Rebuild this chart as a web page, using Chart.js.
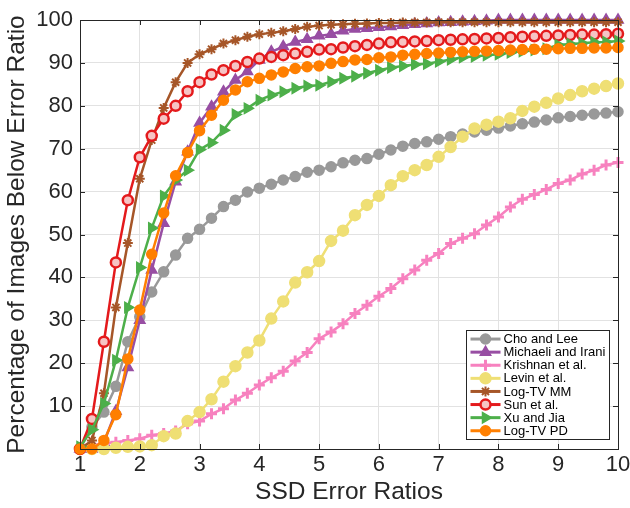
<!DOCTYPE html>
<html>
<head>
<meta charset="utf-8">
<script src="https://cdn.jsdelivr.net/npm/chart.js@4.4.1/dist/chart.umd.min.js"></script>
<style>
  html, body { margin: 0; padding: 0; background: #ffffff; }
  #wrap { width: 630px; height: 508px; position: relative; }
</style>
</head>
<body>
<div id="wrap"><canvas id="c" width="630" height="508"></canvas></div>
<script>
// SSD error ratio thresholds (x) and cumulative percentage of images (y)
const ratios = [1.0, 1.2, 1.4, 1.6, 1.8, 2.0, 2.2, 2.4, 2.6, 2.8,
                3.0, 3.2, 3.4, 3.6, 3.8, 4.0, 4.2, 4.4, 4.6, 4.8,
                5.0, 5.2, 5.4, 5.6, 5.8, 6.0, 6.2, 6.4, 6.6, 6.8,
                7.0, 7.2, 7.4, 7.6, 7.8, 8.0, 8.2, 8.4, 8.6, 8.8,
                9.0, 9.2, 9.4, 9.6, 9.8, 10.0];

const choLee = [0, 5.1, 8.6, 14.6, 25, 30.8, 36.6, 41.3, 45.2, 49.1,
                51.2, 53.8, 56.5, 58, 59.9, 60.8, 61.7, 62.7, 63.5, 64.5,
                65.0, 65.8, 66.7, 67.3, 67.7, 68.7, 69.7, 70.6, 71.2, 71.6,
                72.2, 72.8, 73.4, 73.9, 74.3, 74.8, 75.3, 75.8, 76.2, 76.7,
                77.2, 77.5, 77.8, 78.1, 78.3, 78.6];

const michaeliIrani = [0, 0, 1.5, 8.8, 19, 30, 41.7, 52.6, 62.3, 69.3,
                       76, 79.8, 83.3, 86, 88, 90.7, 92.6, 93.8, 94.9, 95.5,
                       96.3, 96.7, 97.5, 97.9, 98.1, 98.3, 98.5, 98.8, 99.0, 99.2,
                       99.4, 99.5, 99.6, 99.7, 99.8, 100, 100, 100, 100, 100,
                       100, 100, 100, 100, 100, 100];

const krishnan = [0.3, 0.9, 1.3, 1.6, 2.0, 2.4, 3.2, 3.6, 4.2, 5.9,
                  6.5, 8.2, 9.4, 11.4, 13.0, 14.9, 16.6, 18.1, 20.5, 22.5,
                  25.7, 27.3, 29.2, 31.6, 33.5, 35.6, 37.4, 39.7, 41.7, 44.0,
                  45.6, 47.9, 49.1, 50.2, 52.2, 54.1, 56.4, 58.2, 59.3, 60.5,
                  61.9, 62.7, 64.1, 65.0, 66.2, 66.8];

const levin = [0, 0, 0, 0.3, 0.5, 0.6, 0.9, 3.0, 3.6, 6.5,
               8.6, 11.6, 15.7, 19.3, 22.5, 25.3, 30.4, 34.4, 38.8, 41.2,
               43.8, 48.5, 50.9, 54.5, 56.9, 59.0, 61.5, 63.6, 65.0, 66.2,
               68.1, 70.4, 72.8, 74.7, 75.6, 76.3, 77.1, 78.8, 79.8, 80.7,
               81.7, 82.5, 83.4, 84.0, 84.6, 85.2];

const logTvMM = [0, 2, 13, 33, 48, 63, 72, 79.5, 85.5, 90,
                 92, 93.2, 94.5, 95.3, 96.1, 96.7, 97.0, 97.4, 97.9, 98.4,
                 98.7, 98.9, 99.0, 99.1, 99.2, 99.3, 99.3, 99.4, 99.4, 99.4,
                 99.5, 99.5, 99.5, 99.5, 99.5, 99.5, 99.5, 99.5, 99.5, 99.5,
                 99.5, 99.5, 99.5, 99.5, 99.5, 99.5];

const sunEtAl = [0, 7, 25, 43.5, 58, 68, 73, 77, 80, 83.4,
                 85.5, 87.3, 88.3, 89.3, 90.2, 91.0, 91.4, 91.8, 92.2, 92.6,
                 93.1, 93.2, 93.6, 93.9, 94.2, 94.5, 94.8, 94.9, 95.0, 95.1,
                 95.3, 95.4, 95.5, 95.6, 95.7, 95.8, 96.0, 96.1, 96.2, 96.3,
                 96.4, 96.5, 96.6, 96.6, 96.7, 96.8];

const xuJia = [0.5, 4.5, 10.6, 20.7, 33, 42.3, 51.5, 59, 62.7, 65,
               69.8, 71.4, 74.3, 78, 79.4, 81.3, 82.5, 83.3, 84.1, 84.6,
               84.8, 85.6, 86.4, 86.9, 87.6, 88.3, 88.9, 89.3, 89.6, 89.8,
               90.3, 90.8, 91.3, 91.5, 91.8, 92.0, 92.4, 92.7, 93.0, 93.3,
               94.2, 94.4, 94.6, 94.8, 94.9, 95.1];

const logTvPD = [0, 0, 2, 8, 21, 32.4, 45.4, 55, 63.7, 69.1,
                 74.2, 77.8, 81.3, 83.7, 85.6, 86.4, 87.2, 87.9, 88.7, 89.1,
                 89.3, 89.9, 90.3, 90.7, 90.8, 91.2, 91.4, 91.8, 92.0, 92.2,
                 92.3, 92.5, 92.6, 92.7, 92.8, 92.9, 93.0, 93.1, 93.2, 93.2,
                 93.3, 93.4, 93.4, 93.5, 93.5, 93.6];

const seriesNames = ['Cho and Lee', 'Michaeli and Irani', 'Krishnan et al.', 'Levin et al.',
                     'Log-TV MM', 'Sun et al.', 'Xu and Jia', 'Log-TV PD'];
const seriesValues = [choLee, michaeliIrani, krishnan, levin, logTvMM, sunEtAl, xuJia, logTvPD];

const xTicks = [1, 2, 3, 4, 5, 6, 7, 8, 9, 10];
const yTicks = [10, 20, 30, 40, 50, 60, 70, 80, 90, 100];

const xTitle = 'SSD Error Ratios';
const yTitle = 'Percentage of Images Below Error Ratio';

// line / marker appearance per series
const looks = [
  { color: '#999999', fill: '#999999', shape: 'circle',   r: 5,   rot: 0,  bw: 1.5 },
  { color: '#984ea3', fill: '#984ea3', shape: 'triangle', r: 6,   rot: 0,  bw: 1.5 },
  { color: '#f781bf', fill: '#f781bf', shape: 'cross',    r: 5.5, rot: 0,  bw: 3   },
  { color: '#efdf74', fill: '#efdf74', shape: 'circle',   r: 5.5, rot: 0,  bw: 1.5 },
  { color: '#a65628', fill: '#a65628', shape: 'star',     r: 5,   rot: 0,  bw: 2   },
  { color: '#e41a1c', fill: '#f6c4c4', shape: 'circle',   r: 5,   rot: 0,  bw: 2.5 },
  { color: '#4daf4a', fill: '#4daf4a', shape: 'triangle', r: 6,   rot: 90, bw: 1.5 },
  { color: '#ff7f00', fill: '#ff7f00', shape: 'circle',   r: 5,   rot: 0,  bw: 1.5 }
];

const datasets = seriesNames.map((name, i) => ({
  label: name,
  data: ratios.map((x, k) => ({ x: x, y: seriesValues[i][k] })),
  borderColor: looks[i].color,
  backgroundColor: looks[i].fill,
  borderWidth: 2.5,
  pointStyle: looks[i].shape,
  pointRadius: looks[i].r,
  pointRotation: looks[i].rot,
  pointBorderColor: looks[i].color,
  pointBackgroundColor: looks[i].fill,
  pointBorderWidth: looks[i].bw,
  tension: 0,
  clip: false,
  order: seriesNames.length - 1 - i   // later series are drawn on top
}));

const AXIS = '#262626';
const FONT = "'Liberation Sans', Arial, Helvetica, sans-serif";

// Boxed axes with inward tick marks, and a boxed legend inside the plot area
const framePlugin = {
  id: 'frame',
  afterDatasetsDraw(chart) {
    const ctx = chart.ctx;
    const a = chart.chartArea;
    const xs = chart.scales.x, ys = chart.scales.y;
    ctx.save();
    ctx.strokeStyle = AXIS;
    ctx.lineWidth = 1;
    ctx.beginPath();
    const tl = 5;
    xTicks.forEach(v => {
      const px = Math.round(xs.getPixelForValue(v)) + 0.5;
      ctx.moveTo(px, a.bottom); ctx.lineTo(px, a.bottom - tl);
      ctx.moveTo(px, a.top); ctx.lineTo(px, a.top + tl);
    });
    yTicks.forEach(v => {
      const py = Math.round(ys.getPixelForValue(v)) + 0.5;
      ctx.moveTo(a.left, py); ctx.lineTo(a.left + tl, py);
      ctx.moveTo(a.right, py); ctx.lineTo(a.right - tl, py);
    });
    ctx.stroke();
    ctx.strokeRect(Math.round(a.left) + 0.5, Math.round(a.top) + 0.5,
                   Math.round(a.right - a.left), Math.round(a.bottom - a.top));

    // legend
    ctx.font = '13px ' + FONT;
    let maxW = 0;
    seriesNames.forEach(n => { maxW = Math.max(maxW, ctx.measureText(n).width); });
    const rowH = 13.1;
    const sample = 30;
    const boxW = Math.round(5 + sample + 3 + maxW + 3);
    const boxH = Math.round(rowH * seriesNames.length + 4);
    const bx = Math.round(a.right - 9 - boxW) + 0.5;
    const by = Math.round(a.bottom - 10 - boxH) + 0.5;
    ctx.fillStyle = '#ffffff';
    ctx.fillRect(bx, by, boxW, boxH);
    ctx.strokeStyle = AXIS;
    ctx.lineWidth = 1;
    ctx.strokeRect(bx, by, boxW, boxH);
    seriesNames.forEach((n, i) => {
      const cy = by + 2 + rowH * (i + 0.5);
      const x0 = bx + 4;
      const lk = looks[i];
      ctx.strokeStyle = lk.color;
      ctx.lineWidth = 3;
      ctx.beginPath();
      ctx.moveTo(x0, cy); ctx.lineTo(x0 + sample, cy);
      ctx.stroke();
      ctx.fillStyle = lk.fill;
      ctx.strokeStyle = lk.color;
      ctx.lineWidth = lk.bw;
      Chart.helpers.drawPoint(ctx, { pointStyle: lk.shape, radius: lk.r, rotation: lk.rot, borderWidth: lk.bw },
                              x0 + sample / 2, cy);
      ctx.fillStyle = '#000000';
      ctx.textAlign = 'left';
      ctx.textBaseline = 'middle';
      ctx.fillText(n, x0 + sample + 3, cy + 0.5);
    });
    ctx.restore();
  }
};

new Chart(document.getElementById('c'), {
  type: 'line',
  data: { datasets: datasets },
  plugins: [framePlugin],
  options: {
    responsive: false,
    animation: false,
    devicePixelRatio: 1,
    layout: { padding: { top: 20, right: 12, left: 0, bottom: 0 } },
    plugins: { legend: { display: false }, tooltip: { enabled: false } },
    scales: {
      x: {
        type: 'linear',
        min: 1, max: 10,
        afterBuildTicks: s => { s.ticks = xTicks.map(v => ({ value: v })); },
        afterFit: s => { s.height = 59; s.paddingLeft = 0; s.paddingRight = 0; },
        ticks: { color: AXIS, font: { family: FONT, size: 22 }, padding: 3, maxRotation: 0 },
        grid: { color: '#e2e2e2', lineWidth: 1, drawTicks: false },
        border: { display: false },
        title: { display: true, text: xTitle, color: AXIS,
                 font: { family: FONT, size: 24.5 }, padding: { top: 0, bottom: 1 } }
      },
      y: {
        type: 'linear',
        min: 0, max: 100,
        afterBuildTicks: s => { s.ticks = [0].concat(yTicks).map(v => ({ value: v })); },
        afterFit: s => { s.width = 80; s.paddingTop = 0; s.paddingBottom = 0; },
        ticks: { color: AXIS, font: { family: FONT, size: 22 }, padding: 7,
                 callback: v => (v === 0 ? '' : v) },
        grid: { color: '#e2e2e2', lineWidth: 1, drawTicks: false },
        border: { display: false },
        title: { display: true, text: yTitle, color: AXIS,
                 font: { family: FONT, size: 24.5 }, padding: { top: 3, bottom: 0 } }
      }
    }
  }
});
</script>
</body>
</html>
